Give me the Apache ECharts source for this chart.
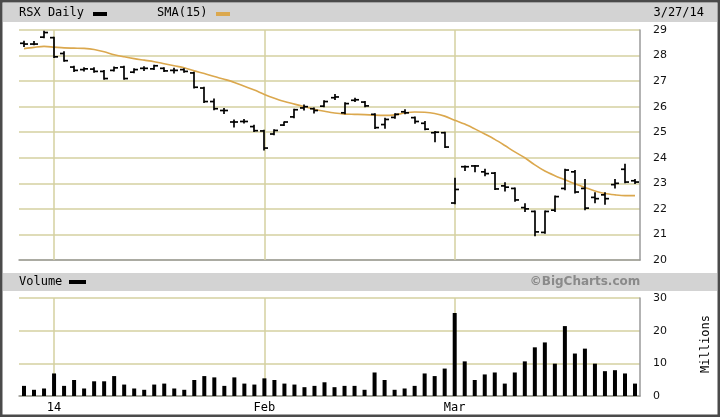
<!DOCTYPE html>
<html><head><meta charset="utf-8">
<script src="https://cdn.jsdelivr.net/npm/echarts/dist/echarts.min.js"></script>
<style>html,body{margin:0;padding:0;background:#fff}#c{width:720px;height:417px}</style>
</head><body><div id="c"></div>
<script>
const categories = ['12/27','12/30','12/31','1/2','1/3','1/6','1/7','1/8','1/9','1/10','1/13','1/14','1/15','1/16','1/17','1/21','1/22','1/23','1/24','1/27','1/28','1/29','1/30','1/31','2/3','2/4','2/5','2/6','2/7','2/10','2/11','2/12','2/13','2/14','2/18','2/19','2/20','2/21','2/24','2/25','2/26','2/27','2/28','3/3','3/4','3/5','3/6','3/7','3/10','3/11','3/12','3/13','3/14','3/17','3/18','3/19','3/20','3/21','3/24','3/25','3/26','3/27'];
const opens = [28.48,28.45,28.72,28.70,28.08,27.55,27.45,27.47,27.38,27.42,
27.55,27.35,27.50,27.48,27.50,27.42,27.45,27.32,26.73,26.20,
25.85,25.40,25.42,25.22,25.05,24.93,25.28,25.60,25.95,25.92,
26.02,26.35,25.76,26.25,26.18,25.70,25.30,25.58,25.80,25.57,
25.35,24.98,24.98,22.23,23.65,23.68,23.45,23.40,22.90,22.80,
22.05,21.90,21.08,21.95,22.80,23.45,22.80,22.45,22.55,22.95,
23.55,23.10];
const highs = [28.56,28.55,28.95,28.72,28.15,27.58,27.52,27.52,27.42,27.55,
27.58,27.48,27.56,27.62,27.52,27.50,27.48,27.35,26.76,26.30,
25.93,25.48,25.50,25.27,25.08,25.10,25.40,25.90,26.07,25.95,
26.23,26.48,26.15,26.33,26.20,25.72,25.55,25.72,25.88,25.60,
25.42,25.03,25.00,23.20,23.68,23.70,23.55,23.42,23.02,22.82,
22.20,21.92,21.92,22.50,23.55,23.50,23.15,22.63,22.63,23.15,
23.75,23.15];
const lows = [28.35,28.42,28.70,27.92,27.78,27.38,27.40,27.35,27.07,27.40,
27.07,27.33,27.42,27.45,27.38,27.32,27.35,26.73,26.16,25.88,
25.73,25.20,25.36,25.03,24.30,24.90,25.26,25.57,25.87,25.75,
26.00,26.28,25.72,26.20,26.00,25.15,25.16,25.55,25.72,25.35,
25.10,24.63,24.40,22.20,23.50,23.45,23.30,22.76,22.70,22.30,
21.90,20.95,21.05,21.90,22.75,22.62,21.97,22.24,22.18,22.82,
23.02,22.99];
const closes = [28.45,28.45,28.90,27.95,27.80,27.42,27.48,27.38,27.10,27.52,
27.10,27.45,27.50,27.60,27.40,27.42,27.38,26.76,26.20,25.92,
25.85,25.40,25.42,25.06,24.38,25.07,25.40,25.88,26.00,25.85,
26.20,26.38,26.12,26.27,26.03,25.18,25.50,25.70,25.76,25.42,
25.12,25.00,24.42,22.76,23.65,23.68,23.38,22.78,22.85,22.35,
22.00,21.10,21.90,22.48,23.52,22.66,22.03,22.40,22.40,23.00,
23.05,23.05];
const sma15 = [28.27,28.32,28.36,28.33,28.30,28.29,28.28,28.24,28.15,28.03,
27.95,27.88,27.82,27.76,27.68,27.60,27.52,27.40,27.30,27.18,
27.07,26.95,26.80,26.65,26.48,26.33,26.20,26.10,26.00,25.90,
25.82,25.75,25.71,25.70,25.69,25.67,25.66,25.68,25.75,25.79,
25.78,25.73,25.63,25.47,25.32,25.13,24.93,24.72,24.48,24.23,
24.00,23.72,23.48,23.30,23.14,22.98,22.84,22.70,22.60,22.55,
22.52,22.52];
const volumeM = [3.1,1.9,2.3,6.9,3.1,4.9,2.3,4.5,4.5,6.1,
3.5,2.3,1.9,3.5,3.8,2.3,1.9,4.9,6.1,5.7,
3.1,5.7,3.8,3.5,5.4,4.9,3.8,3.5,2.7,3.1,
4.2,2.7,3.1,3.1,1.9,7.2,4.9,1.9,2.3,3.1,
6.9,6.1,8.4,25.4,10.6,4.9,6.6,7.2,3.8,7.2,
10.6,14.9,16.4,9.9,21.4,13.0,14.5,9.9,7.6,7.9,
6.9,3.8];
const monthTickCats = ['1/2','2/3','3/3'];
const monthTickText = ['14','Feb','Mar'];

const GRID = '#d5d1a0';
const BORDER = '#9a9a9a';
const SMA_COLOR = '#dba84e';
const labelFont = {fontFamily:'DejaVu Sans', fontSize:11, color:'#111'};
const mono = '12px "DejaVu Sans Mono"';

const ohlc = categories.map((c,i)=>[i, opens[i], highs[i], lows[i], closes[i]]);

function renderOHLC(params, api){
  const i = api.value(0);
  const o = api.coord([i, api.value(1)]);
  const h = api.coord([i, api.value(2)]);
  const l = api.coord([i, api.value(3)]);
  const c = api.coord([i, api.value(4)]);
  const x = Math.round(h[0]);
  const st = {stroke:'#000', lineWidth:1.7};
  return {type:'group', children:[
    {type:'line', shape:{x1:x, y1:h[1]-0.5, x2:x, y2:l[1]+0.5}, style:st},
    {type:'line', shape:{x1:x-4, y1:o[1], x2:x, y2:o[1]}, style:st},
    {type:'line', shape:{x1:x, y1:c[1], x2:x+4, y2:c[1]}, style:st}
  ]};
}

const vMark = {silent:true, symbol:['none','none'], label:{show:false}, animation:false, z:1,
  lineStyle:{color:GRID, type:'solid', width:1.5},
  data: monthTickCats.map(c=>({xAxis:c}))};

const chart = echarts.init(document.getElementById('c'), null, {renderer:'canvas'});
chart.setOption({
  animation:false,
  backgroundColor:'#fff',
  grid:[
    {left:19, top:30, width:621, height:230},
    {left:19, top:298, width:621, height:98}
  ],
  xAxis:[
    {type:'category', gridIndex:0, data:categories, boundaryGap:true,
     axisLine:{show:true, lineStyle:{color:BORDER, width:1.5}}, axisTick:{show:false}, axisLabel:{show:false}, splitLine:{show:false}},
    {type:'category', gridIndex:1, data:categories, boundaryGap:true,
     axisLine:{show:true, lineStyle:{color:BORDER, width:1.5}}, axisTick:{show:false},
     axisLabel:{show:true, margin:6, interval:(idx,val)=>monthTickCats.indexOf(val)>=0,
       formatter:(val)=>{const k=monthTickCats.indexOf(val); return k>=0?monthTickText[k]:'';},
       fontFamily:'DejaVu Sans Mono', fontSize:12, color:'#000'},
     splitLine:{show:false}}
  ],
  yAxis:[
    {type:'value', gridIndex:0, position:'right', min:20, max:29, interval:1,
     axisLine:{show:true, lineStyle:{color:BORDER, width:1.5}}, axisTick:{show:false},
     axisLabel:Object.assign({margin:13}, labelFont),
     splitLine:{show:true, lineStyle:{color:GRID, width:1.5}}},
    {type:'value', gridIndex:1, position:'right', min:0, max:30, interval:10,
     axisLine:{show:true, lineStyle:{color:BORDER, width:1.5}}, axisTick:{show:false},
     axisLabel:Object.assign({margin:13}, labelFont),
     splitLine:{show:true, lineStyle:{color:GRID, width:1.5}}}
  ],
  series:[
    {name:'grid-price', type:'line', xAxisIndex:0, yAxisIndex:0, data:[], z:1, markLine:vMark},
    {name:'grid-vol', type:'line', xAxisIndex:1, yAxisIndex:1, data:[], z:1, markLine:vMark},
    {name:'SMA(15)', type:'line', xAxisIndex:0, yAxisIndex:0, data:sma15, smooth:0.3,
     showSymbol:false, lineStyle:{color:SMA_COLOR, width:1.6}, itemStyle:{color:SMA_COLOR}, z:3},
    {name:'RSX Daily', type:'custom', xAxisIndex:0, yAxisIndex:0, data:ohlc,
     encode:{x:0, y:[1,2,3,4]}, renderItem:renderOHLC, z:4},
    {name:'Volume', type:'bar', xAxisIndex:1, yAxisIndex:1, data:volumeM, barWidth:4,
     itemStyle:{color:'#000'}, z:4}
  ],
  graphic:[
    {type:'rect', shape:{x:1.25, y:1.25, width:717.5, height:414.5}, style:{fill:null, stroke:'#4a4a4a', lineWidth:2.5}, z:100},
    {type:'rect', shape:{x:3, y:3, width:714, height:19}, style:{fill:'#d3d3d3'}, z:0},
    {type:'text', x:19, y:13, style:{text:'RSX Daily', font:mono, fill:'#000', verticalAlign:'middle'}},
    {type:'rect', shape:{x:93, y:12, width:14, height:4}, style:{fill:'#000'}},
    {type:'text', x:157, y:13, style:{text:'SMA(15)', font:mono, fill:'#000', verticalAlign:'middle'}},
    {type:'rect', shape:{x:216, y:12, width:14, height:4}, style:{fill:SMA_COLOR}},
    {type:'text', x:704, y:13, style:{text:'3/27/14', font:mono, fill:'#000', align:'right', verticalAlign:'middle'}},
    {type:'rect', shape:{x:3, y:273, width:714, height:18}, style:{fill:'#d3d3d3'}, z:0},
    {type:'text', x:19, y:282, style:{text:'Volume', font:mono, fill:'#000', verticalAlign:'middle'}},
    {type:'rect', shape:{x:69, y:280, width:17, height:4}, style:{fill:'#000'}},
    {type:'text', x:585, y:282, style:{text:'©BigCharts.com', font:'bold 12px "DejaVu Sans"', fill:'#8a8a8a', align:'center', verticalAlign:'middle'}},
    {type:'text', x:706, y:344, rotation:Math.PI/2, style:{text:'Millions', font:mono, fill:'#000', align:'center', verticalAlign:'middle'}}
  ]
});
</script></body></html>
